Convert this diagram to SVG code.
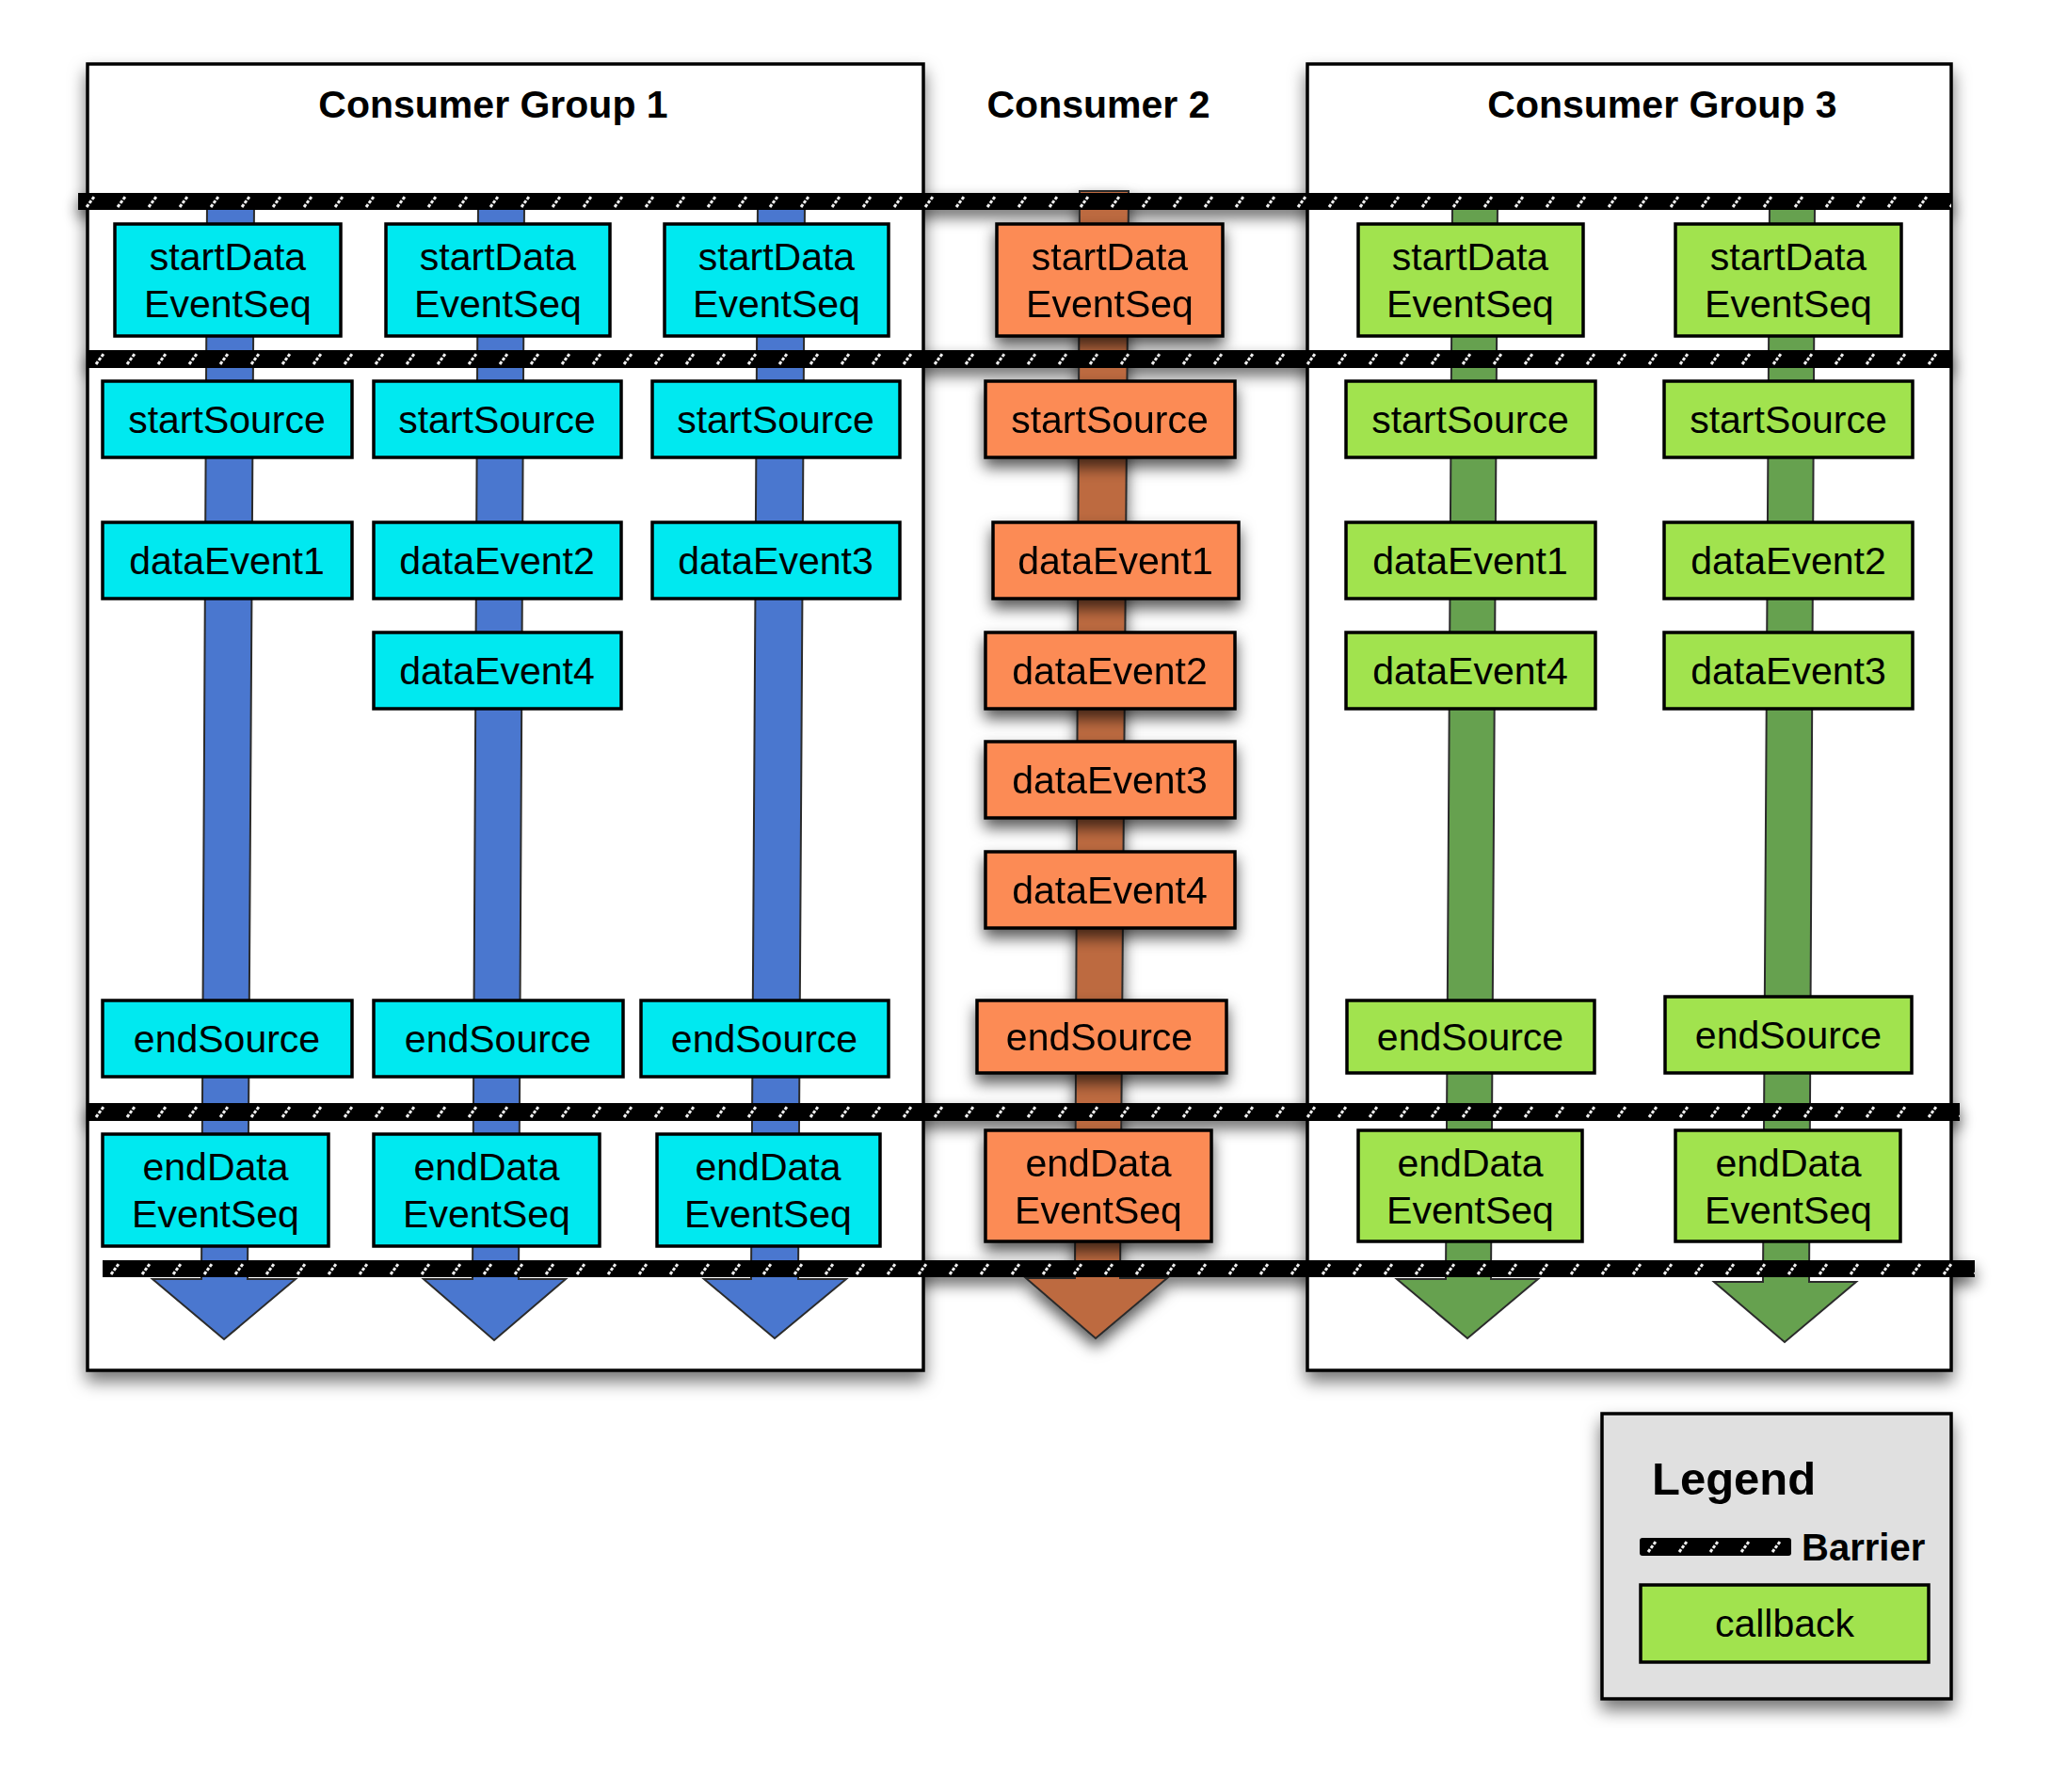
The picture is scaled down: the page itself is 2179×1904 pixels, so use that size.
<svg xmlns="http://www.w3.org/2000/svg" width="2179" height="1904" viewBox="0 0 2179 1904">
<defs>
<style>
.t{font-family:"Liberation Sans",Arial,Helvetica,sans-serif;font-size:41px;text-anchor:middle;fill:#000}
.ttl{font-family:"Liberation Sans",Arial,Helvetica,sans-serif;font-size:41px;font-weight:bold;text-anchor:middle;fill:#000}
.grp{fill:#fff;stroke:#000;stroke-width:3.5}
.n{stroke:#000;stroke-width:3.5}
.cy{fill:#00e9f0}
.or{fill:#fc8b55}
.gr{fill:#a1e34e}
.ab{fill:#4a77cf;stroke:#2b2b2b;stroke-width:2}
.ao{fill:#bd6a40;stroke:#2b2b2b;stroke-width:2}
.ag{fill:#66a14f;stroke:#2b2b2b;stroke-width:2}
</style>
<pattern id="bp" width="33" height="19" patternUnits="userSpaceOnUse">
<rect width="33" height="19" fill="#000"/>
<path d="M9 15 L17 4" stroke="#f0f0f0" stroke-width="3" stroke-dasharray="3.5 1.5"/>
</pattern>
<filter id="gsh" x="-10%" y="-10%" width="120%" height="120%">
<feDropShadow dx="0" dy="10" stdDeviation="9" flood-color="#000" flood-opacity="0.55"/>
</filter>
<filter id="nsh" x="-20%" y="-50%" width="140%" height="220%">
<feDropShadow dx="0" dy="9" stdDeviation="8" flood-color="#000" flood-opacity="0.65"/>
</filter>
<filter id="bsh" x="-5%" y="-200%" width="110%" height="600%">
<feGaussianBlur stdDeviation="8"/>
</filter>
</defs>
<rect width="2179" height="1904" fill="#fff"/>

<g id="barrier-shadows" fill="#000" opacity="0.6" filter="url(#bsh)">
<rect x="83" y="213" width="1990" height="18"/>
<rect x="93" y="380" width="1980" height="19"/>
<rect x="93" y="1180" width="1989" height="19"/>
<rect x="109" y="1347" width="1989" height="18"/>
</g>

<g id="group1">
<rect class="grp" x="93" y="68" width="888" height="1388" filter="url(#gsh)"/>
<text class="ttl" x="524" y="125">Consumer Group 1</text>
</g>
<g id="consumer2">
<text class="ttl" x="1167" y="125">Consumer 2</text>
</g>
<g id="group3">
<rect class="grp" x="1389" y="68" width="684" height="1388" filter="url(#gsh)"/>
<text class="ttl" x="1766" y="125">Consumer Group 3</text>
</g>

<g id="connectors">
<polygon class="ab" points="220,215 270,215 263,1359 314,1359 238,1423 162,1359 214,1359"/>
<polygon class="ab" points="508,215 557,215 551,1359 601,1359 525,1424 450,1359 502,1359"/>
<polygon class="ab" points="805,215 855,215 848,1359 899,1359 823,1422 748,1359 798,1359"/>
<polygon class="ao" filter="url(#nsh)" points="1147,203 1199,203 1190,1358 1240,1358 1164,1422 1090,1358 1142,1358"/>
<polygon class="ag" points="1543,215 1591,215 1584,1359 1634,1359 1559,1422 1484,1359 1536,1359"/>
<polygon class="ag" points="1880,215 1928,215 1922,1362 1972,1362 1896,1426 1821,1362 1873,1362"/>
</g>

<g id="barriers">
<g id="barrier1" transform="translate(83,205)"><rect width="1990" height="18" fill="url(#bp)"/></g>
<g id="barrier2" transform="translate(93,372)"><rect width="1980" height="19" fill="url(#bp)"/></g>
<g id="barrier3" transform="translate(93,1172)"><rect width="1989" height="19" fill="url(#bp)"/></g>
<g id="barrier4" transform="translate(109,1339)"><rect width="1989" height="18" fill="url(#bp)"/></g>
</g>

<g id="g1c1-startDataEventSeq"><rect class="n cy" x="122" y="238" width="240" height="119"/><text class="t" x="242" y="287">startData</text><text class="t" x="242" y="337">EventSeq</text></g>
<g id="g1c1-startSource"><rect class="n cy" x="109" y="405" width="265" height="81"/><text class="t" x="241" y="460">startSource</text></g>
<g id="g1c1-dataEvent1"><rect class="n cy" x="109" y="555" width="265" height="81"/><text class="t" x="241" y="610">dataEvent1</text></g>
<g id="g1c1-endSource"><rect class="n cy" x="109" y="1063" width="265" height="81"/><text class="t" x="241" y="1118">endSource</text></g>
<g id="g1c1-endDataEventSeq"><rect class="n cy" x="109" y="1205" width="240" height="119"/><text class="t" x="229" y="1254">endData</text><text class="t" x="229" y="1304">EventSeq</text></g>

<g id="g1c2-startDataEventSeq"><rect class="n cy" x="410" y="238" width="238" height="119"/><text class="t" x="529" y="287">startData</text><text class="t" x="529" y="337">EventSeq</text></g>
<g id="g1c2-startSource"><rect class="n cy" x="397" y="405" width="263" height="81"/><text class="t" x="528" y="460">startSource</text></g>
<g id="g1c2-dataEvent2"><rect class="n cy" x="397" y="555" width="263" height="81"/><text class="t" x="528" y="610">dataEvent2</text></g>
<g id="g1c2-dataEvent4"><rect class="n cy" x="397" y="672" width="263" height="81"/><text class="t" x="528" y="727">dataEvent4</text></g>
<g id="g1c2-endSource"><rect class="n cy" x="397" y="1063" width="265" height="81"/><text class="t" x="529" y="1118">endSource</text></g>
<g id="g1c2-endDataEventSeq"><rect class="n cy" x="397" y="1205" width="240" height="119"/><text class="t" x="517" y="1254">endData</text><text class="t" x="517" y="1304">EventSeq</text></g>

<g id="g1c3-startDataEventSeq"><rect class="n cy" x="706" y="238" width="238" height="119"/><text class="t" x="825" y="287">startData</text><text class="t" x="825" y="337">EventSeq</text></g>
<g id="g1c3-startSource"><rect class="n cy" x="693" y="405" width="263" height="81"/><text class="t" x="824" y="460">startSource</text></g>
<g id="g1c3-dataEvent3"><rect class="n cy" x="693" y="555" width="263" height="81"/><text class="t" x="824" y="610">dataEvent3</text></g>
<g id="g1c3-endSource"><rect class="n cy" x="681" y="1063" width="263" height="81"/><text class="t" x="812" y="1118">endSource</text></g>
<g id="g1c3-endDataEventSeq"><rect class="n cy" x="698" y="1205" width="237" height="119"/><text class="t" x="816" y="1254">endData</text><text class="t" x="816" y="1304">EventSeq</text></g>

<g id="c2-startDataEventSeq" filter="url(#nsh)"><rect class="n or" x="1059" y="238" width="240" height="119"/><text class="t" x="1179" y="287">startData</text><text class="t" x="1179" y="337">EventSeq</text></g>
<g id="c2-startSource" filter="url(#nsh)"><rect class="n or" x="1047" y="405" width="265" height="81"/><text class="t" x="1179" y="460">startSource</text></g>
<g id="c2-dataEvent1" filter="url(#nsh)"><rect class="n or" x="1055" y="555" width="261" height="81"/><text class="t" x="1185" y="610">dataEvent1</text></g>
<g id="c2-dataEvent2" filter="url(#nsh)"><rect class="n or" x="1047" y="672" width="265" height="81"/><text class="t" x="1179" y="727">dataEvent2</text></g>
<g id="c2-dataEvent3" filter="url(#nsh)"><rect class="n or" x="1047" y="788" width="265" height="81"/><text class="t" x="1179" y="843">dataEvent3</text></g>
<g id="c2-dataEvent4" filter="url(#nsh)"><rect class="n or" x="1047" y="905" width="265" height="81"/><text class="t" x="1179" y="960">dataEvent4</text></g>
<g id="c2-endSource" filter="url(#nsh)"><rect class="n or" x="1038" y="1063" width="265" height="77"/><text class="t" x="1168" y="1116">endSource</text></g>
<g id="c2-endDataEventSeq" filter="url(#nsh)"><rect class="n or" x="1047" y="1201" width="240" height="118"/><text class="t" x="1167" y="1250">endData</text><text class="t" x="1167" y="1300">EventSeq</text></g>

<g id="g3c1-startDataEventSeq"><rect class="n gr" x="1443" y="238" width="239" height="119"/><text class="t" x="1562" y="287">startData</text><text class="t" x="1562" y="337">EventSeq</text></g>
<g id="g3c1-startSource"><rect class="n gr" x="1430" y="405" width="265" height="81"/><text class="t" x="1562" y="460">startSource</text></g>
<g id="g3c1-dataEvent1"><rect class="n gr" x="1430" y="555" width="265" height="81"/><text class="t" x="1562" y="610">dataEvent1</text></g>
<g id="g3c1-dataEvent4"><rect class="n gr" x="1430" y="672" width="265" height="81"/><text class="t" x="1562" y="727">dataEvent4</text></g>
<g id="g3c1-endSource"><rect class="n gr" x="1431" y="1063" width="263" height="77"/><text class="t" x="1562" y="1116">endSource</text></g>
<g id="g3c1-endDataEventSeq"><rect class="n gr" x="1443" y="1201" width="238" height="118"/><text class="t" x="1562" y="1250">endData</text><text class="t" x="1562" y="1300">EventSeq</text></g>

<g id="g3c2-startDataEventSeq"><rect class="n gr" x="1780" y="238" width="240" height="119"/><text class="t" x="1900" y="287">startData</text><text class="t" x="1900" y="337">EventSeq</text></g>
<g id="g3c2-startSource"><rect class="n gr" x="1768" y="405" width="264" height="81"/><text class="t" x="1900" y="460">startSource</text></g>
<g id="g3c2-dataEvent2"><rect class="n gr" x="1768" y="555" width="264" height="81"/><text class="t" x="1900" y="610">dataEvent2</text></g>
<g id="g3c2-dataEvent3"><rect class="n gr" x="1768" y="672" width="264" height="81"/><text class="t" x="1900" y="727">dataEvent3</text></g>
<g id="g3c2-endSource"><rect class="n gr" x="1769" y="1059" width="262" height="81"/><text class="t" x="1900" y="1114">endSource</text></g>
<g id="g3c2-endDataEventSeq"><rect class="n gr" x="1780" y="1201" width="239" height="118"/><text class="t" x="1900" y="1250">endData</text><text class="t" x="1900" y="1300">EventSeq</text></g>

<g id="legend">
<rect x="1702" y="1502" width="371" height="303" fill="#e0e0e0" stroke="#000" stroke-width="3.5" filter="url(#gsh)"/>
<text x="1755" y="1588" style="font-family:'Liberation Sans',Arial,sans-serif;font-size:49px;font-weight:bold">Legend</text>
<g transform="translate(1742,1634)"><rect width="161" height="19" rx="3" fill="url(#bp)"/></g>
<text x="1914" y="1658" style="font-family:'Liberation Sans',Arial,sans-serif;font-size:40px;font-weight:bold">Barrier</text>
<rect class="n gr" x="1743" y="1684" width="306" height="82"/>
<text class="t" x="1896" y="1739">callback</text>
</g>
</svg>
